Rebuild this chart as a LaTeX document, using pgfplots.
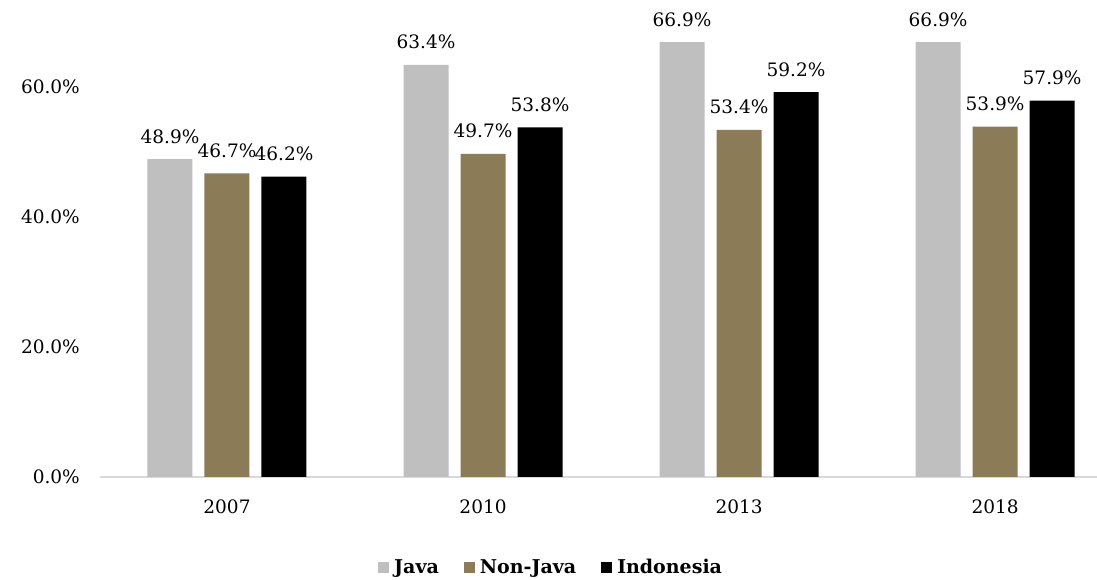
\documentclass[border=0pt]{standalone}
\usepackage{fontspec}
\setmainfont{DejaVu Serif}
\usepackage{pgfplots}
\pgfplotsset{compat=1.18}
\definecolor{javac}{HTML}{BFBFBF}
\definecolor{nonjava}{HTML}{8B7B57}
\definecolor{axisgray}{HTML}{D9D9D9}
\begin{document}
\begin{tikzpicture}
\begin{axis}[
  at={(0,0)}, anchor=south west,
  scale only axis,
  width=997pt, height=455pt,
  ybar=12pt, bar width=45pt,
  xmin=-0.496, xmax=3.398,
  ymin=0, ymax=70,
  xtick={0,1,2,3},
  xticklabels={2007,2010,2013,2018},
  ytick={0,20,40,60},
  yticklabel={\pgfmathprintnumber[fixed,fixed zerofill,precision=1]{\tick}\%},
  /pgf/number format/assume math mode=true,
  axis x line*=bottom,
  axis y line*=left,
  y axis line style={draw=none},
  x axis line style={draw=axisgray, line width=1.2pt, -},
  major tick length=0pt,
  tick style={draw=none},
  ticklabel style={font=\fontsize{18.5}{20}\selectfont},
  xticklabel style={anchor=north, inner sep=0pt, yshift=-23pt},
  yticklabel style={anchor=east, inner sep=0pt, xshift=-20pt},
  nodes near coords={\pgfmathprintnumber[fixed,fixed zerofill,precision=1]{\pgfplotspointmeta}\%},
  nodes near coords style={font=\fontsize{18.5}{20}\selectfont, anchor=base, inner sep=0pt, yshift=16pt, /pgf/number format/assume math mode=true},
  legend columns=3,
  legend style={draw=none, font=\bfseries\fontsize{19}{21}\selectfont,
    at={(0.454,-0.198)}, anchor=center,
    /tikz/every even column/.append style={column sep=20pt},
    nodes={inner xsep=5pt}},
  legend image code/.code={\fill[#1] (0pt,-6pt) rectangle (11pt,5pt);},
]
\addplot[fill=javac, draw=none] coordinates {(0,48.9) (1,63.4) (2,66.9) (3,66.9)};
\addplot[fill=nonjava, draw=none] coordinates {(0,46.7) (1,49.7) (2,53.4) (3,53.9)};
\addplot[fill=black, draw=none] coordinates {(0,46.2) (1,53.8) (2,59.2) (3,57.9)};
\legend{Java,Non-Java,Indonesia}
\end{axis}
\pgfresetboundingbox
\path (-100pt,-103pt) rectangle (997pt,477pt);
\end{tikzpicture}
\end{document}
